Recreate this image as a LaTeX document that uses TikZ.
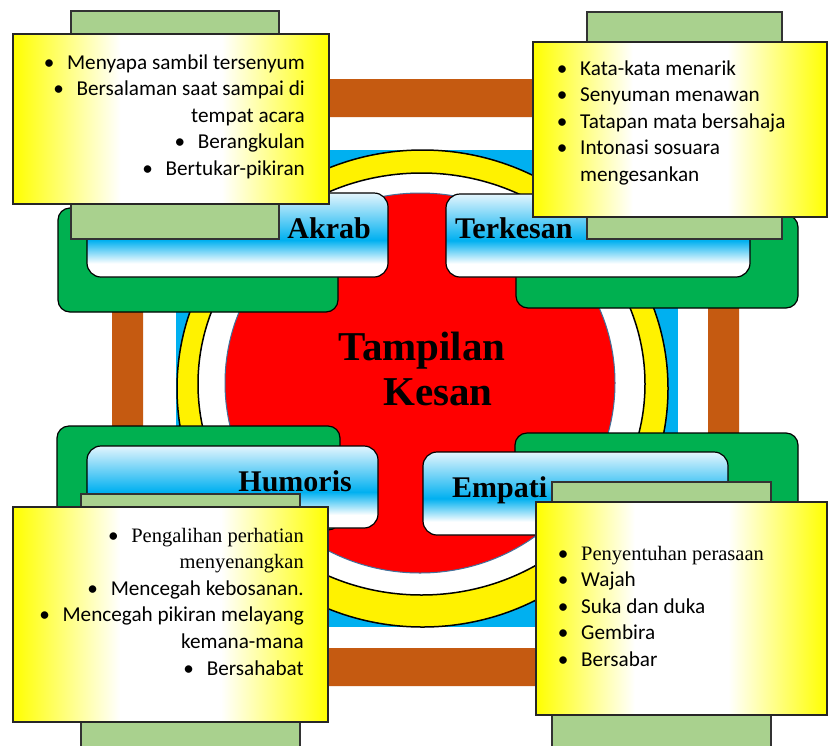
\documentclass[tikz,border=0pt]{standalone}
\usepackage{fontspec}
\setmainfont{Liberation Serif}
\newfontfamily\notefont{Carlito}

\definecolor{framebrown}{HTML}{C55A11}
\definecolor{skyblue}{HTML}{00B0F0}
\definecolor{leafgreen}{HTML}{00B050}
\definecolor{palegreen}{HTML}{A9D18E}
\definecolor{paleblue}{HTML}{E3F5FD}
\definecolor{rimblue}{HTML}{41719C}

\pgfdeclareverticalshading{labelshade}{100bp}{color(0bp)=(white); color(25bp)=(white); color(33bp)=(white); color(47bp)=(skyblue); color(75bp)=(paleblue); color(100bp)=(paleblue)}
\pgfdeclarehorizontalshading{noteshade}{100bp}{color(0bp)=(yellow); color(25bp)=(yellow); color(42bp)=(white); color(58bp)=(white); color(75bp)=(yellow); color(100bp)=(yellow)}

\newcommand{\dotitem}{\makebox[0pt][c]{•}\hspace{18pt}}
\newcommand{\serifline}[1]{{\rmfamily\fontsize{20.5}{26.6}\selectfont #1}}

\begin{document}
\begin{tikzpicture}[
    x=1pt, y=-1pt,
    greenbox/.style={draw=black, fill=leafgreen, line width=1.2pt, rounded corners=12pt},
    labelbox/.style={draw=black, shade, shading=labelshade, line width=1.2pt, rounded corners=14pt},
    tabbox/.style={draw=black!80, fill=palegreen, line width=1.2pt},
    notebox/.style={draw=black!85, shade, shading=noteshade, line width=1.5pt},
    title_text/.style={font=\fontsize{41}{45}\selectfont\bfseries, inner sep=0pt},
    label_text/.style={font=\fontsize{30}{34}\selectfont\bfseries, inner sep=0pt},
    note_text/.style={font=\notefont\fontsize{21.2}{26.6}\selectfont, inner sep=0pt}
]
    \useasboundingbox (0,0) rectangle (829,745);
    \fill[white] (0,0) rectangle (829,745);

    % Brown frame and blue square
    \fill[framebrown, even odd rule] (112,79) rectangle (739,686) (143,117) rectangle (708,648);
    \fill[skyblue] (176,150) rectangle (678,627);

    % Rings and red disk
    \draw[black, fill=yellow, line width=1.5pt] (422.5,388.5) ellipse [x radius=245.5pt, y radius=238.5pt];
    \draw[black, fill=white, line width=1.5pt] (421.5,384) ellipse [x radius=223.5pt, y radius=211pt];
    \draw[rimblue, fill=red, line width=1pt] (420,383) ellipse [x radius=195pt, y radius=190pt];

    \node[title_text, anchor=base] (title) at (422,360) {Tampilan};
    \node[title_text, anchor=base] (titlesub) at (438,405) {Kesan};

    % Green backs
    \foreach \xa/\ya/\xb/\yb in {58/208/338/312, 516/215/798/308, 57/426/340/530, 515/433/798/530}
        \draw[greenbox] (\xa,\ya) rectangle (\xb,\yb);

    % Label boxes
    \foreach \xa/\ya/\xb/\yb in {87/193/388/277, 446/194/750/277, 87/446/378/528, 423/452/728/535}
        \draw[labelbox] (\xa,\ya) rectangle (\xb,\yb);

    \node[label_text, anchor=base east] (akrab) at (371,238) {Akrab};
    \node[label_text, anchor=base west] (terkesan) at (455,238) {Terkesan};
    \node[label_text, anchor=base east] (humoris) at (352,491) {Humoris};
    \node[label_text, anchor=base west] (empati) at (452,497) {Empati};

    % Tabs behind the notes
    \foreach \xa/\ya/\xb/\yb in {71/11/279/239, 587/12/782/239, 81/494/300/752, 552/482/771/752}
        \draw[tabbox] (\xa,\ya) rectangle (\xb,\yb);

    % Notes
    \foreach \xa/\ya/\xb/\yb in {13/34/329/204, 533/42/827/217, 13/507/328/722, 536/502/827/715}
        \draw[notebox] (\xa,\ya) rectangle (\xb,\yb);

    \node[note_text, anchor=base east] (akrabnotes) at (305,69) {%
        \begin{tabular}[t]{@{}r@{}}
        \dotitem Menyapa sambil tersenyum\\
        \dotitem Bersalaman saat sampai di\\
        tempat acara\\
        \dotitem Berangkulan\\
        \dotitem Bertukar-pikiran
        \end{tabular}};

    \node[note_text, anchor=base west] (terkesannotes) at (562,75) {%
        \begin{tabular}[t]{@{}l@{}}
        \dotitem Kata-kata menarik\\
        \dotitem Senyuman menawan\\
        \dotitem Tatapan mata bersahaja\\
        \dotitem Intonasi sosuara\\
        \hspace*{18pt}mengesankan
        \end{tabular}};

    \node[note_text, anchor=base east] (humorisnotes) at (304,542) {%
        \begin{tabular}[t]{@{}r@{}}
        \dotitem\serifline{Pengalihan perhatian}\\
        \serifline{menyenangkan}\\
        \dotitem Mencegah kebosanan.\\
        \dotitem Mencegah pikiran melayang\\
        kemana-mana\\
        \dotitem Bersahabat
        \end{tabular}};

    \node[note_text, anchor=base west] (empatinotes) at (563,560) {%
        \begin{tabular}[t]{@{}l@{}}
        \dotitem\serifline{Penyentuhan perasaan}\\
        \dotitem Wajah\\
        \dotitem Suka dan duka\\
        \dotitem Gembira\\
        \dotitem Bersabar
        \end{tabular}};

\end{tikzpicture}
\end{document}
